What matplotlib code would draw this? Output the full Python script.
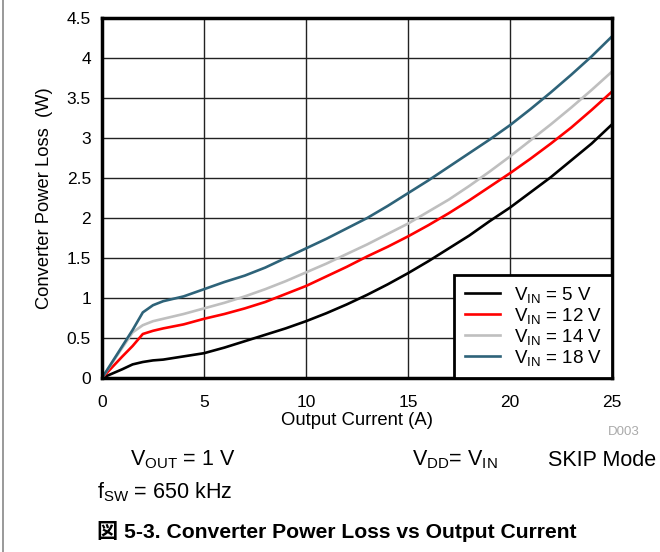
import matplotlib
matplotlib.use("Agg")
import matplotlib.pyplot as plt
from matplotlib.lines import Line2D

plt.rcParams['font.family'] = ['Liberation Sans', 'Noto Sans CJK JP', 'DejaVu Sans']
plt.rcParams['mathtext.fontset'] = 'custom'
plt.rcParams['mathtext.rm'] = 'Liberation Sans'

# output current (A)
current = [0, 1, 1.5, 2, 2.5, 3, 4, 5, 6, 7, 8, 9, 10, 11, 12, 13, 14, 15,
           16, 17, 18, 19, 20, 21, 22, 23, 24, 25]

# converter power loss (W)
loss_5v = [0, 0.11, 0.17, 0.20, 0.22, 0.23, 0.27, 0.31, 0.38, 0.46, 0.54, 0.62,
           0.71, 0.81, 0.92, 1.04, 1.17, 1.31, 1.46, 1.62, 1.78, 1.96, 2.13,
           2.32, 2.51, 2.72, 2.93, 3.17]
loss_12v = [0, 0.27, 0.40, 0.55, 0.59, 0.62, 0.67, 0.74, 0.80, 0.87, 0.95, 1.05,
            1.15, 1.27, 1.39, 1.52, 1.64, 1.77, 1.91, 2.06, 2.22, 2.39, 2.56,
            2.74, 2.93, 3.13, 3.35, 3.58]
loss_14v = [0, 0.38, 0.57, 0.66, 0.71, 0.74, 0.80, 0.87, 0.94, 1.02, 1.11, 1.21,
            1.32, 1.43, 1.55, 1.67, 1.80, 1.93, 2.08, 2.23, 2.40, 2.58, 2.77,
            2.97, 3.17, 3.38, 3.60, 3.83]
loss_18v = [0, 0.40, 0.60, 0.82, 0.91, 0.96, 1.02, 1.11, 1.20, 1.28, 1.38, 1.50,
            1.62, 1.74, 1.87, 2.00, 2.15, 2.31, 2.47, 2.64, 2.81, 2.98, 3.16,
            3.36, 3.57, 3.79, 4.02, 4.27]

labels = ['5 V', '12 V', '14 V', '18 V']
colors = ['#000000', '#ff0000', '#bfbfbf', '#2e6379']

fig = plt.figure(figsize=(6.6, 5.52), dpi=100)
ax = fig.add_axes([102/660, 1-378/552, 510/660, 360/552])

for y, lab, c in zip([loss_5v, loss_12v, loss_14v, loss_18v], labels, colors):
    ax.plot(current, y, color=c, lw=1.9, label=r'$\mathregular{V_{IN}}$ = ' + lab)

ax.set_xlim(0, 25)
ax.set_ylim(0, 4.5)
ax.set_xticks([0, 5, 10, 15, 20, 25])
ax.set_yticks([0, 0.5, 1, 1.5, 2, 2.5, 3, 3.5, 4, 4.5])
ax.set_yticklabels(['0', '0.5', '1', '1.5', '2', '2.5', '3', '3.5', '4', '4.5'])
ax.grid(True, color='#222222', lw=1.0)
ax.set_axisbelow(True)
ax.tick_params(axis='y', length=0, labelsize=12.5, pad=8)
ax.tick_params(axis='x', length=0, labelsize=12.5, pad=12)
for s in ax.spines.values():
    s.set_linewidth(2.5)
ax.set_xlabel('Output Current (A)', fontsize=13.3, labelpad=2)
ax.set_ylabel('Converter Power Loss  (W)', fontsize=13.2, labelpad=10)

leg = ax.legend(loc='lower right', fontsize=13.5, frameon=True, fancybox=False,
                borderaxespad=0, handlelength=1.9, labelspacing=0.05,
                borderpad=0.55, handletextpad=0.7)
leg.get_frame().set_edgecolor('black')
leg.get_frame().set_linewidth(2)
leg.get_frame().set_alpha(1)

fig.text(640/660, 1-432/552, 'D003', color='#aaaaaa', fontsize=9.5, ha='right', va='center')
fig.text(130/660, 1-460/552, r'$\mathregular{V_{OUT}}$ = 1 V', fontsize=15.5, va='center')
fig.text(412/660, 1-460/552, r'$\mathregular{V_{DD}}$= $\mathregular{V_{IN}}$', fontsize=15.5, va='center')
fig.text(548/660, 1-460/552, 'SKIP Mode', fontsize=15.5, va='center')
fig.text(97/660, 1-492/552, r'$\mathregular{f_{SW}}$ = 650 kHz', fontsize=15.5, va='center')
fig.text(97/660, 1-531/552, '図 5-3. Converter Power Loss vs Output Current',
         fontsize=15.2, fontweight='bold', va='center')

fig.add_artist(Line2D([3/660, 3/660], [0, 1], color='#888888', lw=1.2))

fig.savefig('out.png', dpi=100)
